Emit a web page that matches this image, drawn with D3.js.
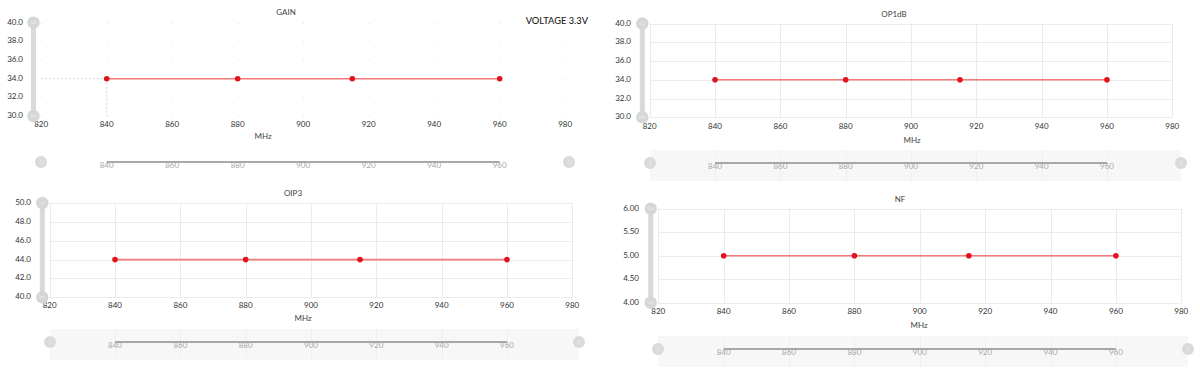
<!DOCTYPE html>
<html>
<head>
<meta charset="utf-8">
<script src="https://cdn.jsdelivr.net/npm/d3@7"></script>
<style>
  body { margin: 0; background: #fff; }
  svg { display: block; }
  text { font-family: Lato, "Open Sans", sans-serif; }
</style>
</head>
<body>
<svg id="chart" width="1200" height="371"></svg>
<script>
// frequencies (MHz) of the measured points
var freqs = [840, 880, 915, 960];
var gainValues = [34, 34, 34, 34];
var op1dbValues = [34, 34, 34, 34];
var oip3Values = [44, 44, 44, 44];
var nfValues = [5, 5, 5, 5];

var xTicks = [820, 840, 860, 880, 900, 920, 940, 960, 980];
var sliderTicks = [840, 860, 880, 900, 920, 940, 960];
var gainTicks = [30, 32, 34, 36, 38, 40];
var op1dbTicks = [30, 32, 34, 36, 38, 40];
var oip3Ticks = [40, 42, 44, 46, 48, 50];
var nfTicks = [4, 4.5, 5, 5.5, 6];

var svg = d3.select("#chart");

var panels = [
  { title: "GAIN", values: gainValues, ticks: gainTicks, fmt: ".1f", grid: "dots", pointer: 0,
    left: 41.2, right: 565.2, top: 22.7, bottom: 116, barX: 33.5, labelX: 23, xLabY: 125,
    mhz: [263, 137], titlePos: [286, 13], slider: { y: 162, x1: 41, x2: 569, bg: false } },
  { title: "OP1dB", values: op1dbValues, ticks: op1dbTicks, fmt: ".1f", grid: "solid",
    left: 649.7, right: 1172.3, top: 23.5, bottom: 117.3, barX: 642.3, labelX: 631, xLabY: 127,
    mhz: [912, 141], titlePos: [894, 15], slider: { y: 163, x1: 650, x2: 1181, bg: true } },
  { title: "OIP3", values: oip3Values, ticks: oip3Ticks, fmt: ".1f", grid: "solid",
    left: 49.7, right: 572.3, top: 203, bottom: 297.3, barX: 42.3, labelX: 31, xLabY: 306,
    mhz: [303, 319], titlePos: [293, 194], slider: { y: 342, x1: 50, x2: 579, bg: true } },
  { title: "NF", values: nfValues, ticks: nfTicks, fmt: ".2f", grid: "solid",
    left: 658.3, right: 1181.3, top: 208.7, bottom: 302.7, barX: 650.7, labelX: 639, xLabY: 312,
    mhz: [919, 326], titlePos: [900, 200], slider: { y: 349, x1: 658, x2: 1188, bg: true } }
];

panels.forEach(drawPanel);

svg.append("text")
  .attr("x", 588).attr("y", 22)
  .attr("text-anchor", "end").attr("dominant-baseline", "middle")
  .style("font-size", "9.3px").style("font-weight", 500).style("fill", "#222")
  .text("VOLTAGE 3.3V");

function drawPanel(p) {
  var g = svg.append("g");
  var x = d3.scaleLinear().domain([820, 980]).range([p.left, p.right]);
  var y = d3.scaleLinear().domain(d3.extent(p.ticks)).range([p.bottom, p.top]);

  // grid
  if (p.grid === "solid") {
    g.selectAll(".hg").data(p.ticks).enter().append("line")
      .attr("x1", p.left).attr("x2", p.right)
      .attr("y1", function(d) { return Math.round(y(d)) + 0.5; })
      .attr("y2", function(d) { return Math.round(y(d)) + 0.5; })
      .style("stroke", "#ebebeb").style("stroke-width", 1);
    g.selectAll(".vg").data(xTicks).enter().append("line")
      .attr("y1", p.top).attr("y2", p.bottom)
      .attr("x1", function(d) { return Math.round(x(d)) + 0.5; })
      .attr("x2", function(d) { return Math.round(x(d)) + 0.5; })
      .style("stroke", "#ebebeb").style("stroke-width", 1);
  } else {
    var pts = [];
    xTicks.forEach(function(a) { p.ticks.forEach(function(b) { pts.push([a, b]); }); });
    g.selectAll(".gd").data(pts).enter().append("rect")
      .attr("x", function(d) { return Math.round(x(d[0])); })
      .attr("y", function(d) { return Math.round(y(d[1])); })
      .attr("width", 1).attr("height", 1)
      .style("fill", "#e2e2e2");
  }

  // hover pointer (dashed cross)
  if (p.pointer !== undefined) {
    var px = x(freqs[p.pointer]), py = y(p.values[p.pointer]);
    g.append("line").attr("x1", p.left).attr("x2", px).attr("y1", py).attr("y2", py)
      .style("stroke", "#d6d6d6").style("stroke-dasharray", "2,2");
    g.append("line").attr("x1", px).attr("x2", px).attr("y1", py).attr("y2", p.bottom)
      .style("stroke", "#d6d6d6").style("stroke-dasharray", "2,2");
  }

  // y axis labels
  g.selectAll(".yl").data(p.ticks).enter().append("text")
    .attr("x", p.labelX).attr("y", function(d) { return y(d); })
    .attr("text-anchor", "end").attr("dominant-baseline", "middle")
    .style("font-size", "8px").style("fill", "#333")
    .text(d3.format(p.fmt));

  // x axis labels
  g.selectAll(".xl").data(xTicks).enter().append("text")
    .attr("x", function(d) { return x(d); }).attr("y", p.xLabY)
    .attr("text-anchor", "middle").attr("dominant-baseline", "middle")
    .style("font-size", "8px").style("fill", "#333")
    .text(function(d) { return d; });

  g.append("text").attr("x", p.mhz[0]).attr("y", p.mhz[1])
    .attr("text-anchor", "middle").attr("dominant-baseline", "middle")
    .style("font-size", "8px").style("fill", "#444").text("MHz");

  g.append("text").attr("x", p.titlePos[0]).attr("y", p.titlePos[1])
    .attr("text-anchor", "middle").attr("dominant-baseline", "middle")
    .style("font-size", "8px").style("fill", "#444").text(p.title);

  // series
  var line = d3.line().x(function(d, i) { return x(freqs[i]); }).y(function(d) { return y(d); });
  g.append("path").datum(p.values).attr("d", line)
    .style("fill", "none").style("stroke", "#f47a7a").style("stroke-width", 1.6);
  g.selectAll(".dot").data(p.values).enter().append("circle")
    .attr("cx", function(d, i) { return x(freqs[i]); })
    .attr("cy", function(d) { return y(d); })
    .attr("r", 2.8).style("fill", "#e0121e");

  // vertical zoom slider
  g.append("rect").attr("x", p.barX - 2.5).attr("y", y.range()[1]).attr("width", 5)
    .attr("height", y.range()[0] - y.range()[1]).style("fill", "#d9d9d9");
  y.range().forEach(function(v) {
    g.append("circle").attr("cx", p.barX).attr("cy", v).attr("r", 6.2).style("fill", "#d6d6d6");
    g.append("line").attr("x1", p.barX - 3).attr("x2", p.barX + 3).attr("y1", v - 0.8).attr("y2", v - 0.8)
      .style("stroke", "#e6e6e6").style("stroke-width", 0.8);
    g.append("line").attr("x1", p.barX - 3).attr("x2", p.barX + 3).attr("y1", v + 0.8).attr("y2", v + 0.8)
      .style("stroke", "#e6e6e6").style("stroke-width", 0.8);
  });

  // horizontal zoom slider
  var s = p.slider;
  if (s.bg) {
    g.append("rect").attr("x", s.x1).attr("y", s.y - 13).attr("width", s.x2 - s.x1).attr("height", 31)
      .style("fill", "#f7f7f7");
    g.selectAll(".sg").data(sliderTicks).enter().append("line")
      .attr("x1", function(d) { return Math.round(x(d)) + 0.5; })
      .attr("x2", function(d) { return Math.round(x(d)) + 0.5; })
      .attr("y1", s.y - 13).attr("y2", s.y + 18)
      .style("stroke", "#efefef");
  }
  g.append("line").attr("x1", x(sliderTicks[0])).attr("x2", x(sliderTicks[sliderTicks.length - 1]))
    .attr("y1", s.y).attr("y2", s.y)
    .style("stroke", "#8c8c8c").style("stroke-width", 1.3);
  g.selectAll(".sl").data(sliderTicks).enter().append("text")
    .attr("x", function(d) { return x(d); }).attr("y", s.y + 4)
    .attr("text-anchor", "middle").attr("dominant-baseline", "middle")
    .style("font-size", "8px").style("fill", "#a8a8a8")
    .text(function(d) { return d; });
  [s.x1, s.x2].forEach(function(v) {
    g.append("circle").attr("cx", v).attr("cy", s.y).attr("r", 6).style("fill", "#dadada");
    g.append("line").attr("x1", v - 0.9).attr("x2", v - 0.9).attr("y1", s.y - 2.5).attr("y2", s.y + 2.5)
      .style("stroke", "#e8e8e8").style("stroke-width", 0.7);
    g.append("line").attr("x1", v + 0.9).attr("x2", v + 0.9).attr("y1", s.y - 2.5).attr("y2", s.y + 2.5)
      .style("stroke", "#e8e8e8").style("stroke-width", 0.7);
  });
}
</script>
</body>
</html>
